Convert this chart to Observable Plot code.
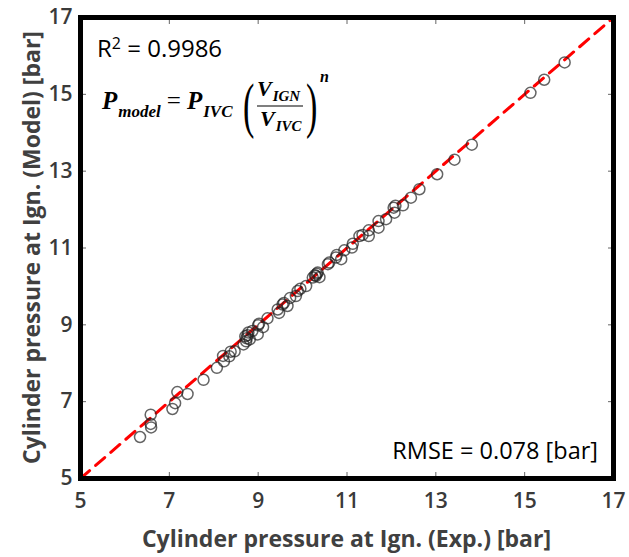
<!DOCTYPE html>
<html>
<head>
<meta charset="utf-8">
<script src="https://cdn.jsdelivr.net/npm/d3@7"></script>
<script src="https://cdn.jsdelivr.net/npm/@observablehq/plot@0.6"></script>
<style>
  html, body { margin: 0; padding: 0; background: #fff; }
  #chart { width: 629px; height: 557px; }
</style>
</head>
<body>
<div id="chart"></div>
<script>
// ---- data ----
const expPressure = [6.34, 6.58, 6.58, 6.59, 7.07, 7.13, 7.18, 7.41, 7.77, 8.07,
  8.23, 8.21, 8.35, 8.38, 8.47, 8.67, 8.73, 8.71, 8.76, 8.81,
  8.87, 8.99, 9.00, 9.11, 9.21, 9.44, 9.47, 9.55, 9.66, 9.72,
  9.85, 9.89, 9.95, 10.08, 10.23, 10.28, 10.34, 10.38, 10.57, 10.60,
  10.75, 10.87, 10.77, 10.94, 11.13, 11.28, 11.11, 11.35, 11.49, 11.49,
  11.71, 11.71, 11.88, 12.07, 12.09, 12.26, 12.44, 12.63, 13.03, 13.42,
  13.81, 15.13, 15.44, 15.90, 8.74, 8.78, 9.02, 9.58, 10.30, 10.32, 12.05];
const modelPressure = [6.08, 6.66, 6.42, 6.33, 6.81, 6.96, 7.25, 7.20, 7.57, 7.88,
  8.05, 8.19, 8.18, 8.30, 8.31, 8.49, 8.57, 8.70, 8.73, 8.62,
  8.84, 8.75, 8.99, 8.94, 9.17, 9.40, 9.31, 9.53, 9.49, 9.70,
  9.75, 9.88, 9.94, 10.01, 10.23, 10.29, 10.36, 10.24, 10.58, 10.62,
  10.75, 10.71, 10.82, 10.94, 11.11, 11.31, 11.01, 11.34, 11.31, 11.46,
  11.70, 11.53, 11.75, 11.92, 12.10, 12.11, 12.31, 12.53, 12.92, 13.30,
  13.69, 15.04, 15.38, 15.83, 8.65, 8.80, 9.03, 9.57, 10.27, 10.33, 12.05];
const axisDomain = [5, 17];
const tickValues = [5, 7, 9, 11, 13, 15, 17];
const xTitle = "Cylinder pressure at Ign. (Exp.) [bar]";
const yTitle = "Cylinder pressure at Ign. (Model) [bar]";
const r2Label = "R";
const r2Sup = "2";
const r2Value = " = 0.9986";
const rmseText = "RMSE = 0.078 [bar]";

const points = expPressure.map((x, i) => ({x, y: modelPressure[i]}));
const diagonal = axisDomain.map(v => ({x: v, y: v}));

const tickFont = {fontFamily: "Open Sans", fontSize: 21, fontWeight: 600, fill: "#3a3a3a"};

const chart = Plot.plot({
  width: 629,
  height: 557,
  marginLeft: 80,
  marginRight: 16,
  marginTop: 17,
  marginBottom: 79,
  style: {fontFamily: "Open Sans", background: "#fff"},
  x: {domain: axisDomain, label: null},
  y: {domain: axisDomain, label: null},
  marks: [
    // tick labels
    Plot.axisX({ticks: tickValues, tickSize: 0, tickPadding: 15, ...tickFont, stroke: null}),
    Plot.axisY({ticks: tickValues, tickSize: 0, tickPadding: 8, ...tickFont, stroke: null}),
    // inward tick marks on all four sides
    Plot.axisX({anchor: "bottom", ticks: tickValues, tickSize: -6, tickFormat: () => "", stroke: "#666"}),
    Plot.axisX({anchor: "top", ticks: tickValues, tickSize: -6, tickFormat: () => "", stroke: "#666"}),
    Plot.axisY({anchor: "left", ticks: tickValues, tickSize: -6, tickFormat: () => "", stroke: "#666"}),
    Plot.axisY({anchor: "right", ticks: tickValues, tickSize: -6, tickFormat: () => "", stroke: "#666"}),
    // 1:1 line
    Plot.line(diagonal, {x: "x", y: "y", stroke: "#ff0000", strokeWidth: 3, strokeDasharray: "12,8"}),
    // data
    Plot.dot(points, {x: "x", y: "y", r: 5.5, stroke: "#222", strokeOpacity: 0.7, strokeWidth: 1.5, fill: "none"}),
    Plot.frame({stroke: "black", strokeWidth: 5})
  ]
});

document.getElementById("chart").appendChild(chart);

const svg = d3.select(chart);
const plotLeft = 80, plotTop = 17, plotRight = 613, plotBottom = 478;

// axis titles
svg.append("text").attr("x", (plotLeft + plotRight) / 2).attr("y", 547)
  .attr("text-anchor", "middle").attr("font-family", "Open Sans").attr("font-weight", "bold")
  .attr("font-size", 23).attr("fill", "#404040").text(xTitle);
svg.append("text").attr("transform", `translate(40,${(plotTop + plotBottom) / 2}) rotate(-90)`)
  .attr("text-anchor", "middle").attr("font-family", "Open Sans").attr("font-weight", "bold")
  .attr("font-size", 23).attr("fill", "#404040").text(yTitle);

// RMSE annotation
svg.append("text").attr("x", plotRight - 15).attr("y", 459)
  .attr("text-anchor", "end").attr("font-family", "Open Sans").attr("font-size", 23.5)
  .attr("fill", "#000").text(rmseText);

// R² annotation
const r2 = svg.append("text").attr("x", plotLeft + 17).attr("y", plotTop + 40)
  .attr("text-anchor", "start").attr("font-family", "Open Sans").attr("font-size", 24).attr("fill", "#000");
r2.append("tspan").text(r2Label);
r2.append("tspan").attr("font-size", 16).attr("dy", -8).text(r2Sup);
r2.append("tspan").attr("dy", 8).text(r2Value);

// Formula annotation (real text, built with tspans)
const fy = 109; // main baseline
const g = svg.append("g").attr("text-anchor", "start")
  .attr("font-family", "'Liberation Serif', serif").attr("font-weight", "bold").attr("font-style", "italic").attr("fill", "#000");
const t1 = g.append("text").attr("x", 102).attr("y", fy).attr("font-size", 25);
t1.append("tspan").text("P");
t1.append("tspan").attr("font-size", 17).attr("dy", 8).attr("dx", 1).text("model");
t1.append("tspan").attr("dy", -8).attr("dx", 6).attr("font-style", "normal").attr("font-weight", "normal").text("=");
t1.append("tspan").attr("dx", 6).text("P");
t1.append("tspan").attr("font-size", 17).attr("dy", 8).attr("dx", 1).text("IVC");
// big parentheses
const paren = (x, s) => g.append("text").attr("transform", `translate(${x},126) scale(0.55,1)`)
  .attr("font-size", 62).attr("font-weight", "normal").attr("font-style", "normal").text(s);
paren(243, "(");
paren(306, ")");
// fraction
const num = g.append("text").attr("x", 257).attr("y", 96).attr("font-size", 22);
num.append("tspan").text("V");
num.append("tspan").attr("font-size", 15).attr("dy", 5).attr("dx", 1).text("IGN");
const den = g.append("text").attr("x", 260).attr("y", 126).attr("font-size", 22);
den.append("tspan").text("V");
den.append("tspan").attr("font-size", 15).attr("dy", 5).attr("dx", 1).text("IVC");
g.append("line").attr("x1", 257).attr("x2", 303).attr("y1", 106).attr("y2", 106).attr("stroke", "#000").attr("stroke-width", 1.2);
g.append("text").attr("x", 320).attr("y", 82).attr("font-size", 16).text("n");
</script>
</body>
</html>
